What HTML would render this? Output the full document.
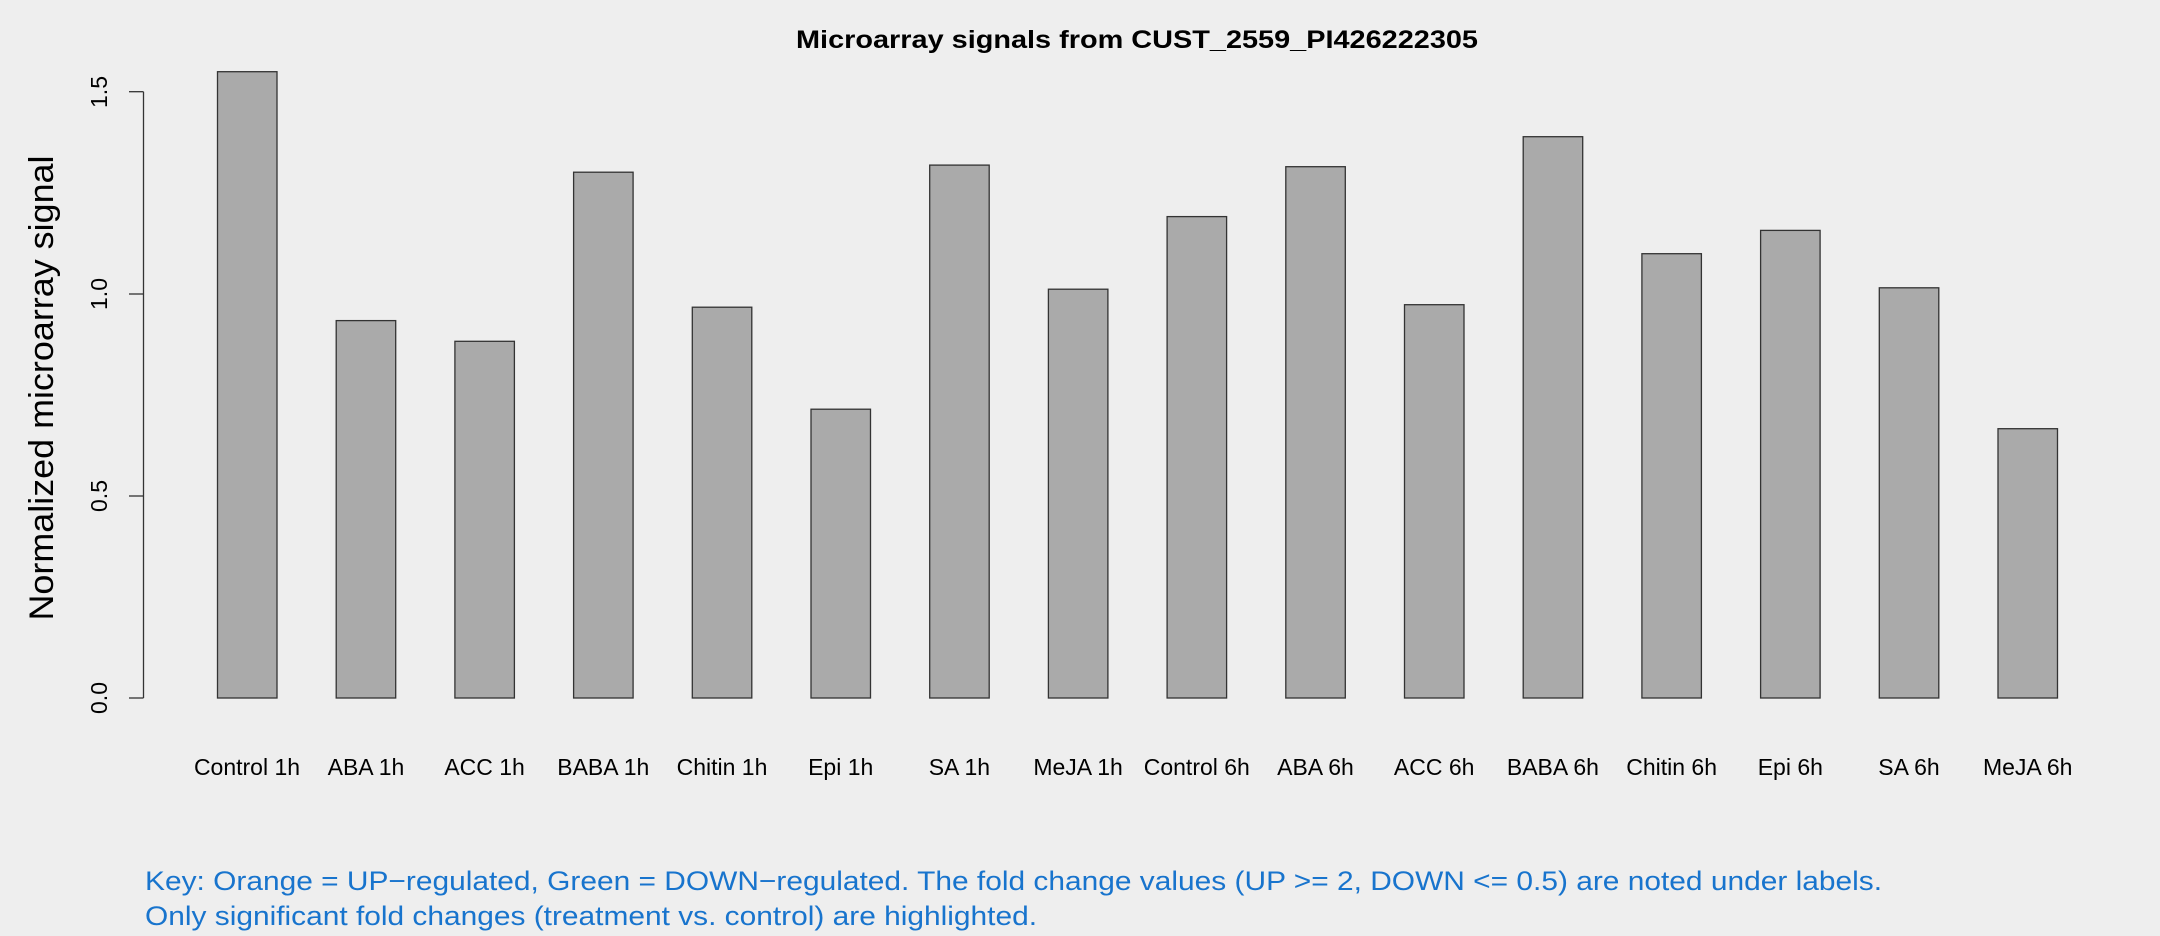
<!DOCTYPE html>
<html><head><meta charset="utf-8"><style>html,body{margin:0;padding:0;background:#eeeeee}svg{display:block}</style></head><body>
<svg width="2160" height="936" xmlns="http://www.w3.org/2000/svg" font-family="Liberation Sans, Arial, sans-serif">
<rect width="2160" height="936" fill="#eeeeee"/>
<text x="1137" y="48" font-size="25" font-weight="bold" text-anchor="middle" textLength="682" lengthAdjust="spacingAndGlyphs">Microarray signals from CUST_2559_PI426222305</text>
<g stroke="#333" stroke-width="1.3" fill="none">
<line x1="143.5" y1="91.7" x2="143.5" y2="698"/>
<line x1="129" y1="698" x2="143.5" y2="698"/>
<line x1="129" y1="496" x2="143.5" y2="496"/>
<line x1="129" y1="294" x2="143.5" y2="294"/>
<line x1="129" y1="91.7" x2="143.5" y2="91.7"/>
</g>
<g font-size="23" text-anchor="middle">
<text transform="translate(107,698) rotate(-90)">0.0</text>
<text transform="translate(107,496) rotate(-90)">0.5</text>
<text transform="translate(107,294) rotate(-90)">1.0</text>
<text transform="translate(107,92) rotate(-90)">1.5</text>
</g>
<text transform="translate(53,388) rotate(-90)" font-size="34" text-anchor="middle" textLength="465" lengthAdjust="spacingAndGlyphs">Normalized microarray signal</text>
<g fill="#aaaaaa" stroke="#333" stroke-width="1.3" id="bars"></g>
<g font-size="23" text-anchor="middle" id="labels"></g>
<text x="145" y="890" font-size="27" fill="#1874CD" textLength="1737" lengthAdjust="spacingAndGlyphs">Key: Orange = UP−regulated, Green = DOWN−regulated. The fold change values (UP &gt;= 2, DOWN &lt;= 0.5) are noted under labels.</text>
<text x="145" y="925" font-size="27" fill="#1874CD" textLength="892" lengthAdjust="spacingAndGlyphs">Only significant fold changes (treatment vs. control) are highlighted.</text>
<g fill="#aaaaaa" stroke="#333" stroke-width="1.3">
<rect x="217.5" y="71.7" width="59.5" height="626.3"/>
<rect x="336.2" y="320.6" width="59.5" height="377.4"/>
<rect x="454.9" y="341.3" width="59.5" height="356.7"/>
<rect x="573.6" y="172.2" width="59.5" height="525.8"/>
<rect x="692.3" y="307.2" width="59.5" height="390.8"/>
<rect x="811.0" y="409.2" width="59.5" height="288.8"/>
<rect x="929.7" y="165.1" width="59.5" height="532.9"/>
<rect x="1048.4" y="289.2" width="59.5" height="408.8"/>
<rect x="1167.1" y="216.6" width="59.5" height="481.4"/>
<rect x="1285.8" y="166.7" width="59.5" height="531.3"/>
<rect x="1404.5" y="304.7" width="59.5" height="393.3"/>
<rect x="1523.2" y="136.7" width="59.5" height="561.3"/>
<rect x="1641.9" y="253.7" width="59.5" height="444.3"/>
<rect x="1760.6" y="230.4" width="59.5" height="467.6"/>
<rect x="1879.3" y="287.8" width="59.5" height="410.2"/>
<rect x="1998.0" y="428.7" width="59.5" height="269.3"/>
</g>
<g font-size="23" text-anchor="middle">
<text x="247" y="775">Control 1h</text>
<text x="366" y="775">ABA 1h</text>
<text x="484.6" y="775">ACC 1h</text>
<text x="603.3" y="775">BABA 1h</text>
<text x="722" y="775">Chitin 1h</text>
<text x="840.7" y="775">Epi 1h</text>
<text x="959.4" y="775">SA 1h</text>
<text x="1078.1" y="775">MeJA 1h</text>
<text x="1196.8" y="775">Control 6h</text>
<text x="1315.5" y="775">ABA 6h</text>
<text x="1434.2" y="775">ACC 6h</text>
<text x="1552.9" y="775">BABA 6h</text>
<text x="1671.6" y="775">Chitin 6h</text>
<text x="1790.3" y="775">Epi 6h</text>
<text x="1909" y="775">SA 6h</text>
<text x="2027.7" y="775">MeJA 6h</text>
</g>
</svg>
</body></html>
